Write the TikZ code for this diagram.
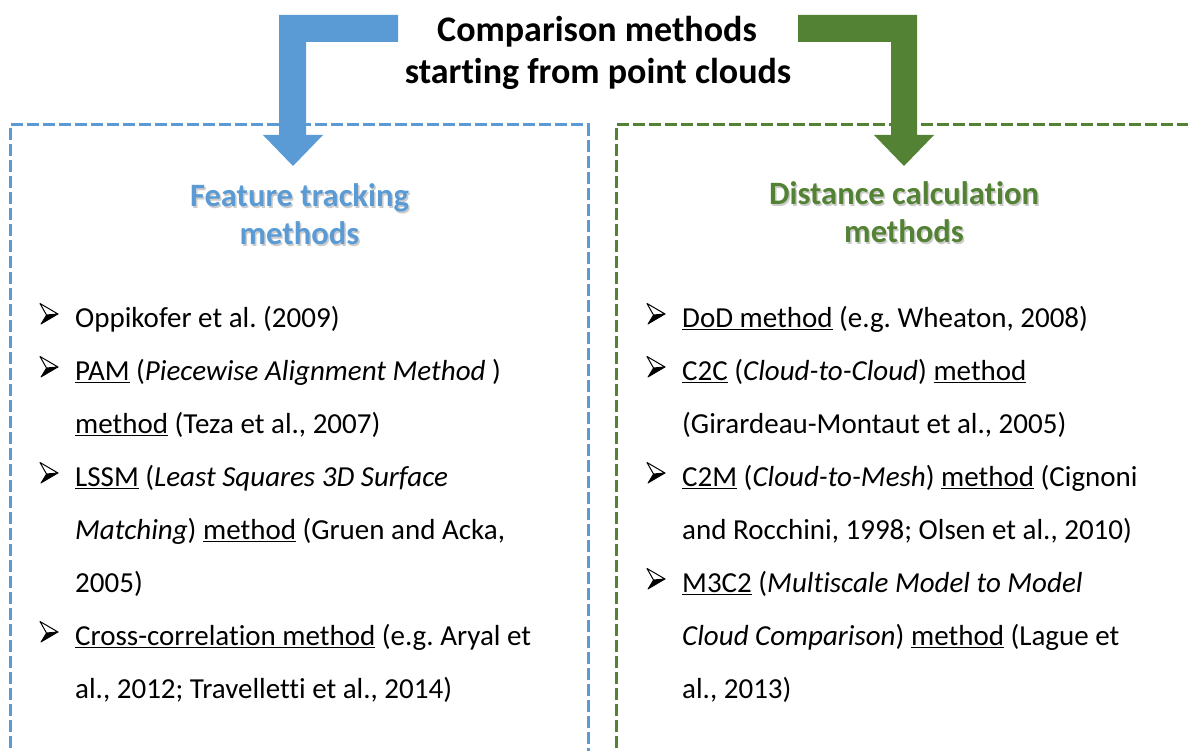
\documentclass[tikz,border=0pt]{standalone}
\usepackage{fontspec}
\setmainfont[Ligatures=NoCommon]{Carlito}
\frenchspacing
\definecolor{fblue}{HTML}{5B9BD5}
\definecolor{fgreen}{HTML}{548235}
\newcommand\uln[1]{\setbox0\hbox{#1}\rlap{\rule[-3.2pt]{\wd0}{1.4pt}}\box0\relax}
\tikzset{
  boxdash/.style={line width=3pt, dash pattern=on 12pt off 4pt},
  titletext/.style={font=\fontsize{36}{42}\selectfont\bfseries, align=center, inner sep=0pt},
  headtext/.style={font=\fontsize{32.6}{38}\selectfont\bfseries, align=center, inner sep=0pt},
  itemtext/.style={font=\fontsize{29}{53}\selectfont, align=left, anchor=base west, inner sep=0pt},
  arrowbullet/.pic={
    \filldraw[black, line width=0.8pt, line join=round] (-2.5,1) -- (9,0) -- (-8,10) -- cycle;
    \filldraw[draw=black, fill=white, line width=1pt, line join=round] (-9,-10.5) -- (9,0) -- (-2.5,1) -- cycle;
  },
}
\begin{document}
\begin{tikzpicture}[x=1pt,y=-1pt]
\useasboundingbox (0,0) rectangle (1188,751);
\clip (0,0) rectangle (1188,751);
\fill[white] (0,0) rectangle (1188,751);
% bent block arrows
\fill[fblue] (398,15) -- (279,15) -- (279,135) -- (263,135) -- (293,166) -- (323,135) -- (306,135) -- (306,42) -- (398,42) -- cycle;
\fill[fgreen] (798,15) -- (917,15) -- (917,135) -- (934,135) -- (904,166) -- (874,135) -- (891,135) -- (891,42) -- (798,42) -- cycle;
% dashed boxes
\draw[boxdash, fblue] (10,780) -- (10,125) -- (588,125) -- (588,780);
\draw[boxdash, fgreen] (616,780) -- (616,125) -- (1200,125);
% title
\node[titletext, anchor=base] (title1) at (597,42) {Comparison methods};
\node[titletext, anchor=base] (title2) at (598,84) {starting from point clouds};
% headings with soft shadow
\node[headtext, anchor=base, text=black!45, opacity=0.45] (fts1) at (301,208.5) {Feature tracking};
\node[headtext, anchor=base, text=black!45, opacity=0.45] (fts2) at (301,246.5) {methods};
\node[headtext, anchor=base, text=fblue] (ft1) at (299.5,207) {Feature tracking};
\node[headtext, anchor=base, text=fblue] (ft2) at (299.5,245) {methods};
\node[headtext, anchor=base, text=black!45, opacity=0.45] (dcs1) at (905.5,206.5) {Distance calculation};
\node[headtext, anchor=base, text=black!45, opacity=0.45] (dcs2) at (905.5,244.5) {methods};
\node[headtext, anchor=base, text=fgreen] (dc1) at (904,205) {Distance calculation};
\node[headtext, anchor=base, text=fgreen] (dc2) at (904,243) {methods};
% left list (anchor = baseline of the last line)
\pic (lb1) at (49,314) {arrowbullet};
\pic (lb2) at (49,367) {arrowbullet};
\pic (lb3) at (49,473) {arrowbullet};
\pic (lb4) at (49,632) {arrowbullet};
\node[itemtext] (l1) at (75,327) {Oppikofer et al. (2009)};
\node[itemtext] (l2) at (75,433) {\uln{PAM} (\textit{Piecewise Alignment Method} )\\\uln{method} (Teza et al., 2007)};
\node[itemtext] (l3) at (75,592) {\uln{LSSM} (\textit{Least Squares 3D Surface}\\\textit{Matching}) \uln{method} (Gruen and Acka,\\2005)};
\node[itemtext] (l4) at (75,698) {\uln{Cross-correlation method} (e.g. Aryal et\\al., 2012; Travelletti et al., 2014)};
% right list
\pic (rb1) at (656,314) {arrowbullet};
\pic (rb2) at (656,367) {arrowbullet};
\pic (rb3) at (656,473) {arrowbullet};
\pic (rb4) at (656,579) {arrowbullet};
\node[itemtext] (r1) at (682,327) {\uln{DoD method} (e.g. Wheaton, 2008)};
\node[itemtext] (r2) at (682,433) {\uln{C2C} (\textit{Cloud-to-Cloud}) \uln{method}\\(Girardeau-Montaut et al., 2005)};
\node[itemtext] (r3) at (682,539) {\uln{C2M} (\textit{Cloud-to-Mesh}) \uln{method} (Cignoni\\and Rocchini, 1998; Olsen et al., 2010)};
\node[itemtext] (r4) at (682,698) {\uln{M3C2} (\textit{Multiscale Model to Model}\\\textit{Cloud Comparison}) \uln{method} (Lague et\\al., 2013)};
\end{tikzpicture}
\end{document}
